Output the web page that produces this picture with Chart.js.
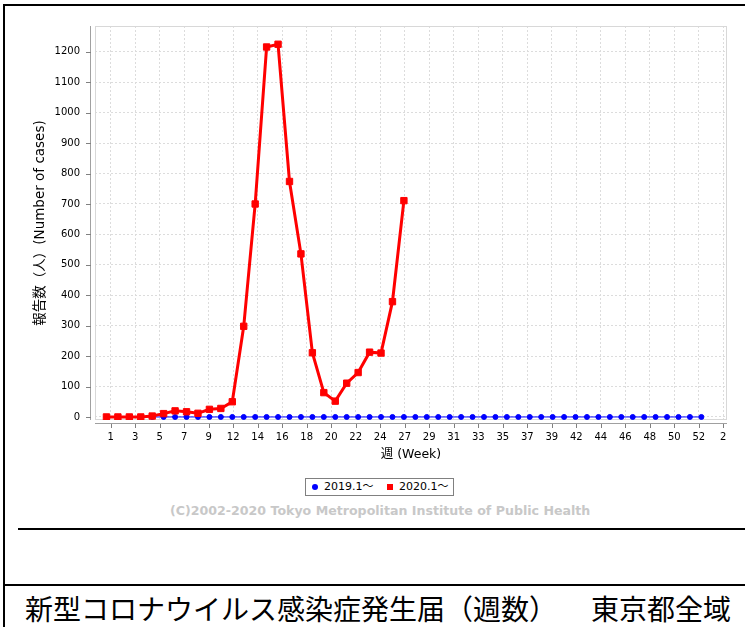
<!DOCTYPE html>
<html>
<head>
<meta charset="utf-8">
<script src="https://cdn.jsdelivr.net/npm/chart.js@4.4.0/dist/chart.umd.min.js"></script>
<style>
  html, body { margin: 0; padding: 0; background: #fff; }
  body { width: 745px; height: 627px; position: relative; overflow: hidden;
         font-family: "DejaVu Sans", "Noto Sans CJK JP", sans-serif; }
  #wrap { position: absolute; left: 0; top: 0; width: 745px; height: 470px; }
  .line { position: absolute; background: #000; }
  #legend { position: absolute; left: 305px; top: 478px; width: 147px; height: 16px;
            border: 1px solid #808080; font-size: 11px; color: #000; }
  #legend span { position: absolute; top: 1px; line-height: 14px; }
  #legend .dot { width: 6px; height: 6px; border-radius: 50%; background: #0000ff; top: 5px; }
  #legend .sq { width: 6px; height: 6px; background: #ff0000; top: 5px; }
  #copy { position: absolute; left: 170px; top: 503px; line-height: 16px; font-size: 12.6px;
          font-weight: bold; color: #c8c8c8; white-space: nowrap; }
  #title { position: absolute; left: 25px; top: 594px; line-height: 28px; font-size: 28px;
           font-family: "Noto Sans CJK JP", sans-serif; color: #000; white-space: nowrap; }
  #title .area { margin-left: 20px; }
</style>
</head>
<body>
<div class="line" style="left:4px;top:4px;width:741px;height:2px;"></div>
<div class="line" style="left:3px;top:4px;width:2px;height:623px;"></div>
<div class="line" style="left:18px;top:528px;width:727px;height:2px;"></div>
<div class="line" style="left:3px;top:584px;width:742px;height:2px;"></div>

<div id="wrap"><canvas id="chart"></canvas></div>

<div id="legend">
  <span class="dot" style="left:6px;"></span><span style="left:18px;">2019.1～</span>
  <span class="sq" style="left:81px;"></span><span style="left:93px;">2020.1～</span>
</div>
<div id="copy">(C)2002-2020 Tokyo Metropolitan Institute of Public Health</div>
<div id="title">新型コロナウイルス感染症発生届（週数）　<span class="area">東京都全域</span></div>

<script>
// weeks and report counts
const weeks2019 = [1, 2, 3, 4, 5, 6, 7, 8, 9, 10, 11, 12, 13, 14, 15, 16, 17, 18, 19, 20,
  21, 22, 23, 24, 25, 26, 27, 28, 29, 30, 31, 32, 33, 34, 35, 36, 37, 38, 39, 40,
  41, 42, 43, 44, 45, 46, 47, 48, 49, 50, 51, 52, 53];
const cases2019 = [0, 0, 0, 0, 0, 0, 0, 0, 0, 0, 0, 0, 0, 0, 0, 0, 0, 0, 0, 0,
  0, 0, 0, 0, 0, 0, 0, 0, 0, 0, 0, 0, 0, 0, 0, 0, 0, 0, 0, 0,
  0, 0, 0, 0, 0, 0, 0, 0, 0, 0, 0, 0, 0];
const weeks2020 = [1, 2, 3, 4, 5, 6, 7, 8, 9, 10, 11, 12, 13, 14, 15, 16, 17, 18, 19, 20,
  21, 22, 23, 24, 25, 26, 27];
const cases2020 = [0, 0, 0, 0, 3, 11, 20, 17, 12, 25, 28, 50, 298, 700, 1216, 1225, 774, 536, 211, 80,
  52, 111, 146, 213, 210, 379, 711];
const xTickLabels = ['1', '3', '5', '7', '9', '12', '14', '16', '18', '20', '22', '24', '27',
  '29', '31', '33', '35', '37', '39', '42', '44', '46', '48', '50', '52', '2'];
const yTickValues = [0, 100, 200, 300, 400, 500, 600, 700, 800, 900, 1000, 1100, 1200];

const X_TICK_FIRST = 1.367;
const X_TICK_STEP = 2.142;

// axis lines sit a few pixels away from the plot, like the original
const axisLines = {
  id: 'axisLines',
  beforeDatasetsDraw(chart) {
    const { ctx, chartArea: a } = chart;
    ctx.save();
    ctx.lineWidth = 1;
    ctx.strokeStyle = '#d8d8d8';
    ctx.strokeRect(a.left + 0.5, a.top + 0.5, a.right - a.left - 1, a.bottom - a.top - 1);
    ctx.restore();
  },
  afterDraw(chart) {
    const { ctx, chartArea: a, scales } = chart;
    ctx.save();
    ctx.lineWidth = 1;
    ctx.strokeStyle = '#a0a0a0';
    ctx.beginPath();
    ctx.moveTo(a.left - 4.5, a.top);
    ctx.lineTo(a.left - 4.5, a.bottom);
    ctx.moveTo(a.left, a.bottom + 3.5);
    ctx.lineTo(a.right, a.bottom + 3.5);
    ctx.stroke();
    ctx.strokeStyle = '#808080';
    ctx.beginPath();
    scales.y.ticks.forEach((t) => {
      const y = Math.round(scales.y.getPixelForValue(t.value)) + 0.5;
      ctx.moveTo(a.left - 9, y);
      ctx.lineTo(a.left - 4, y);
    });
    scales.x.ticks.forEach((t) => {
      const x = Math.round(scales.x.getPixelForValue(t.value)) + 0.5;
      ctx.moveTo(x, a.bottom + 4);
      ctx.lineTo(x, a.bottom + 8);
    });
    ctx.stroke();
    ctx.restore();
  }
};

const ctx = document.getElementById('chart').getContext('2d');
const chart = new Chart(ctx, {
  type: 'line',
  data: {
    datasets: [
      {
        label: '2020.1～',
        data: weeks2020.map((w, i) => ({ x: w, y: cases2020[i] })),
        borderColor: '#ff0000',
        backgroundColor: '#ff0000',
        borderWidth: 3,
        pointStyle: 'rect',
        pointRadius: 4.5,
        pointBorderWidth: 1,
        tension: 0,
      },
      {
        label: '2019.1～',
        data: weeks2019.map((w, i) => ({ x: w, y: cases2019[i] })),
        borderColor: '#0000ff',
        backgroundColor: '#0000ff',
        borderWidth: 1,
        pointStyle: 'circle',
        pointRadius: 2.5,
        tension: 0,
      },
    ],
  },
  options: {
    responsive: true,
    maintainAspectRatio: false,
    animation: false,
    layout: { padding: { top: 26, right: 18, left: 0, bottom: 0 } },
    plugins: { legend: { display: false }, tooltip: { enabled: false } },
    scales: {
      x: {
        type: 'linear',
        min: 0,
        max: 55.24,
        afterBuildTicks: (scale) => {
          scale.ticks = xTickLabels.map((l, i) => ({ value: X_TICK_FIRST + i * X_TICK_STEP }));
        },
        afterFit: (scale) => { scale.height = 50; },
        border: { display: false, dash: [2, 2] },
        grid: { color: '#dcdcdc', drawTicks: false },
        ticks: {
          autoSkip: false, maxRotation: 0, padding: 11, color: '#000',
          font: { family: 'DejaVu Sans', size: 10 },
          callback: (v, i) => xTickLabels[i],
        },
        title: {
          display: true, text: '週 (Week)', color: '#000',
          font: { family: 'DejaVu Sans, Noto Sans CJK JP', size: 12.5 },
          padding: { top: 0, bottom: 8 },
        },
      },
      y: {
        min: -10,
        max: 1285,
        afterBuildTicks: (scale) => {
          scale.ticks = yTickValues.map((v) => ({ value: v }));
        },
        afterFit: (scale) => { scale.width = 95; },
        border: { display: false, dash: [2, 2] },
        grid: { color: '#dcdcdc', drawTicks: false },
        ticks: {
          padding: 15, color: '#000',
          font: { family: 'DejaVu Sans', size: 10 },
          callback: (v) => String(v),
        },
        title: {
          display: true, text: '報告数（人）(Number of cases)', color: '#000',
          font: { family: 'DejaVu Sans, Noto Sans CJK JP', size: 13.5 },
          padding: { top: 32, bottom: 0 },
        },
      },
    },
  },
  plugins: [axisLines],
});
</script>
</body>
</html>
